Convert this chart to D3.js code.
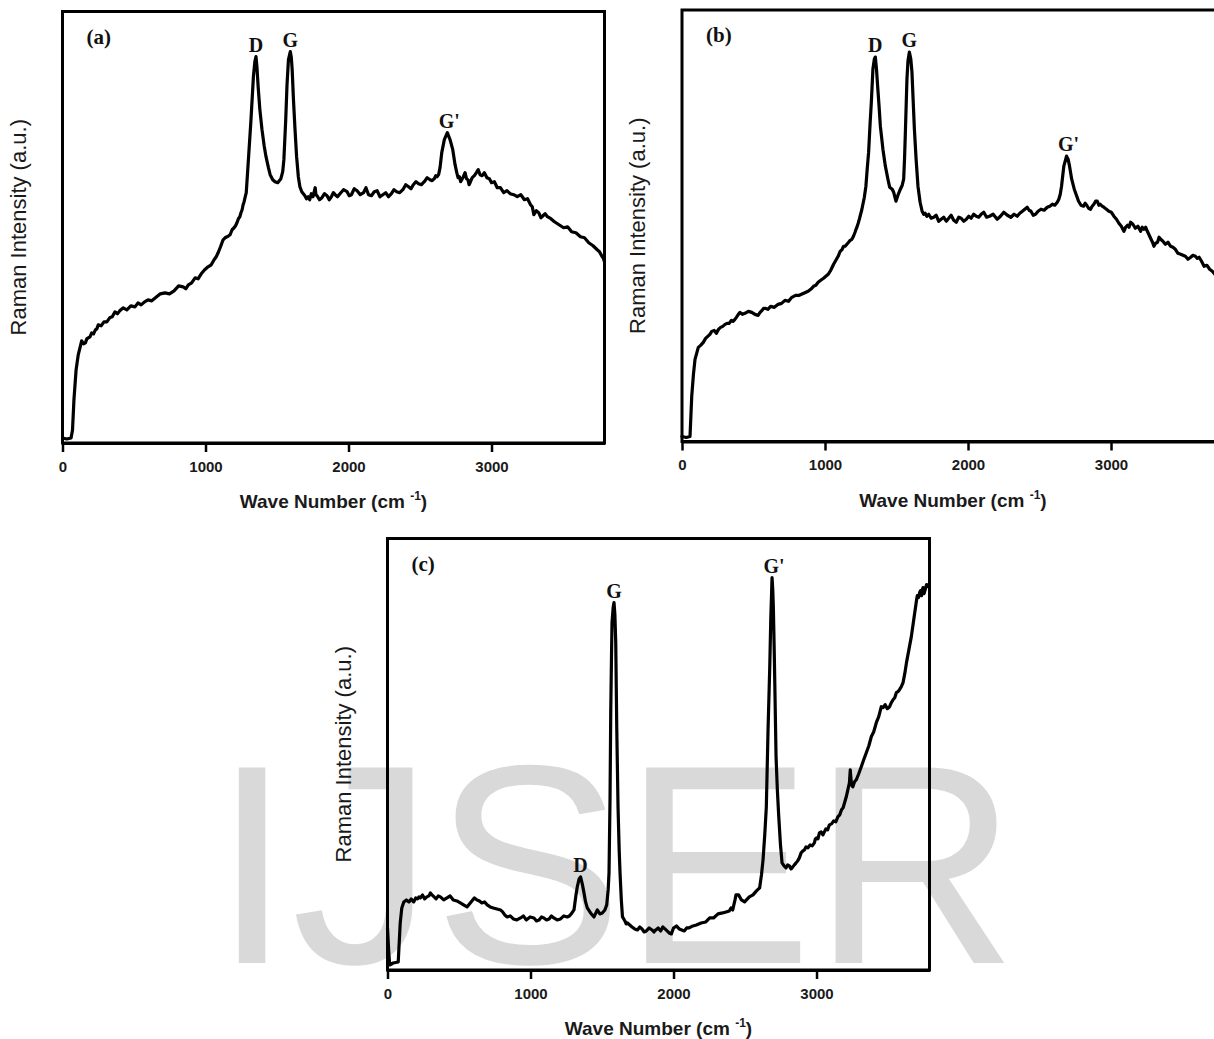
<!DOCTYPE html>
<html><head><meta charset="utf-8">
<script src="https://cdn.jsdelivr.net/npm/d3@7"></script>
<style>html,body{margin:0;padding:0;background:#fff;overflow:hidden}</style>
</head><body>
<script>
// ---------- data ----------
const xTicks = [0, 1000, 2000, 3000];
const xDomain = [0, 3790];
const yDomain = [0, 431];
const xTitle = "Wave Number (cm ";
const xTitleSup = "-1";
const yTitle = "Raman Intensity (a.u.)";
const watermarkText = "IJSER";

// [wave number (cm^-1), intensity (a.u.)]
const spectrumA = [[0,5],[30,4],[60,5],[70,13],[80,43],[95,73],[110,88],
[134,102],[147,99],[160,100],[170,104],[180,105],[192,106],[204,110],[217,109],[230,113],[240,114],[250,118],[270,117],
[290,121],[310,121],[330,125],[348,126],[367,131],[384,129],[400,132],[425,135],[450,133],[478,137],[507,136],[528,140],
[550,138],[574,141],[598,143],[624,142],[650,145],[684,149],[717,150],[748,149],[780,152],[812,157],[843,156],[862,154],
[880,158],[903,160],[927,165],[948,164],[970,169],[994,173],[1018,176],[1040,178],[1060,183],[1075,186],[1088,190],[1105,196],
[1123,203],[1137,205],[1150,206],[1162,207],[1172,208],[1186,213],[1200,215],[1210,217],[1220,220],[1230,224],[1240,226],
[1248,230],[1256,233],[1263,238],[1270,241],[1278,246],[1285,250],
[1300,283],[1318,323],[1335,366],[1345,381],[1353,386],[1360,375],[1368,356],[1380,333],[1395,313],[1410,297],
[1423,286],[1440,275],[1452,268],[1470,263],[1486,261],[1505,260],[1527,264],[1540,271],[1548,283],[1561,323],
[1570,358],[1580,383],[1593,391],[1600,385],[1606,373],[1615,343],[1626,313],[1637,286],[1649,266],[1660,256],
[1673,251],[1684,249],[1695,247],[1706,244],[1718,246],[1729,243],[1740,249],[1752,246],[1767,255],[1772,248],[1780,247],
[1797,243],[1814,245],[1832,249],[1850,247],[1865,243],[1880,246],[1894,250],[1907,248],[1923,246],[1940,249],[1965,253],
[1990,251],[2005,247],[2020,248],[2040,254],[2060,252],[2082,248],[2105,250],[2122,255],[2140,248],[2160,247],[2180,251],
[2200,252],[2220,246],[2240,248],[2260,250],[2280,246],[2300,249],[2318,253],[2337,251],[2358,250],[2380,253],[2400,258],
[2420,256],[2437,254],[2453,258],[2472,261],[2490,259],[2510,258],[2530,261],[2550,265],[2570,263],[2585,262],[2600,264],
[2610,267],[2620,266],[2630,268],[2640,275],
[2652,290],[2670,303],[2691,310],[2710,303],[2729,293],[2745,278],[2757,270],[2766,265],[2775,266],[2784,261],[2792,263],
[2803,266],[2815,270],[2825,264],[2835,263],[2843,258],[2850,260],[2865,265],[2880,267],[2894,270],[2907,273],[2920,268],
[2935,267],[2950,270],[2968,265],[2985,264],[3000,260],[3020,261],[3040,255],[3062,255],[3085,250],[3108,252],[3130,249],
[3155,248],[3180,246],[3205,248],[3230,243],[3252,244],[3273,238],[3285,236],[3296,228],[3313,232],[3330,230],[3345,225],
[3360,227],[3375,229],[3391,226],[3415,224],[3440,221],[3472,218],[3504,215],[3532,216],[3560,211],[3590,210],[3622,206],
[3650,205],[3680,200],[3710,197],[3739,193],[3755,191],[3770,187],[3780,185],[3790,181]];

const spectrumB = [[0,5],[30,4],[56,5],[68,45],[80,67],[91,82],[114,94],[130,96],[149,99],[165,103],[180,105],
[195,107],[208,110],[225,111],[240,108],[255,112],[270,114],[285,115],[301,117],[315,118],[330,118],[345,121],
[357,120],[370,122],[380,124],[394,127],[406,129],[422,127],[440,128],[464,130],[488,129],[510,127],[532,126],
[546,129],[560,131],[570,133],[581,133],[600,132],[620,135],[646,134],[672,137],[696,138],[720,141],[744,140],
[768,144],[794,146],[820,146],[851,148],[882,150],[900,152],[920,155],[936,156],[952,159],[970,161],[990,163],
[1006,165],[1022,167],[1040,171],[1060,177],[1076,181],[1092,185],[1106,190],[1120,192],[1130,195],[1141,195],
[1153,197],[1165,199],[1176,201],[1188,202],[1199,205],[1210,209],[1217,212],[1223,214],[1232,218],
[1240,222],[1258,232],[1275,244],[1286,255],[1295,272],[1305,289],[1315,317],[1324,339],[1335,372],[1345,382],
[1352,384],[1360,372],[1368,355],[1378,335],[1387,315],[1405,292],[1422,275],[1440,262],[1452,254],[1470,252],
[1480,249],[1496,240],[1510,246],[1527,252],[1540,256],[1550,262],[1556,282],[1562,309],[1573,362],[1580,380],
[1590,389],[1600,382],[1608,369],[1616,342],[1625,312],[1637,282],[1650,255],[1665,239],
[1679,230],[1690,227],[1700,228],[1712,225],[1725,227],[1742,223],[1760,224],[1777,226],[1795,220],[1812,222],
[1830,224],[1848,220],[1865,223],[1882,226],[1900,221],[1918,219],[1935,224],[1952,223],[1970,220],[1988,222],
[2005,225],[2022,223],[2040,227],[2058,225],[2075,224],[2092,227],[2110,229],[2130,224],[2150,225],[2176,227],
[2204,222],[2227,225],[2250,229],[2275,226],[2300,224],[2322,227],[2344,225],[2362,228],[2380,230],[2397,232],
[2414,234],[2427,231],[2440,230],[2456,226],[2472,227],[2490,230],[2510,232],[2532,231],[2554,234],[2572,235],
[2590,237],[2607,236],[2624,239],[2635,242],
[2645,247],[2654,255],[2670,275],[2689,285],[2700,282],[2710,275],[2725,262],[2743,252],[2773,240],
[2790,236],[2808,235],[2819,238],[2830,236],[2843,233],[2857,232],[2868,235],[2880,237],[2892,240],[2904,240],
[2915,236],[2925,237],[2938,235],[2950,234],[2968,232],[2985,230],[3002,229],[3020,225],[3038,222],[3055,218],
[3072,215],[3090,210],[3102,214],[3115,216],[3126,214],[3137,219],[3153,217],[3170,213],[3188,215],[3207,210],
[3218,214],[3230,212],[3242,214],[3254,210],[3267,206],[3280,202],[3290,199],[3300,195],[3312,198],[3325,199],
[3336,204],[3347,202],[3363,200],[3380,197],[3398,199],[3417,195],[3433,194],[3450,192],[3468,188],[3487,187],
[3503,186],[3520,185],[3538,182],[3557,184],[3573,186],[3590,185],[3603,183],[3616,184],[3633,180],[3651,175],
[3670,176],[3690,172],[3708,170],[3726,167],[3743,168],[3760,165],[3775,164],[3790,162]];

const spectrumC = [[0,42],[8,20],[15,5],[40,7],[75,8],[89,47],[100,62],[114,68],[132,70],[150,68],[166,71],
[183,68],[197,72],[210,71],[220,73],[229,72],[245,75],[260,71],[275,73],[290,74],[300,77],[311,75],[326,73],
[340,71],[355,74],[370,73],[393,70],[416,72],[438,74],[460,70],[485,69],[509,67],[532,65],[556,63],[573,66],
[590,69],[608,72],[626,70],[643,69],[660,67],[678,68],[697,65],[718,63],[740,62],[765,61],[790,60],[805,58],
[820,55],[837,53],[858,54],[880,51],[905,50],[930,52],[950,54],[970,50],[997,53],[1024,52],[1042,49],[1060,50],
[1077,53],[1094,52],[1112,50],[1130,51],[1146,54],[1163,52],[1186,50],[1210,51],[1233,54],[1257,53],[1272,54],
[1285,56],[1304,60],[1318,75],[1327,83],[1340,91],[1350,93],[1362,86],[1374,77],[1385,68],[1397,62],[1420,57],
[1444,53],[1467,60],[1485,56],[1502,57],[1520,60],[1533,65],[1543,80],[1549,97],[1556,170],[1561,257],
[1566,310],[1570,347],[1578,362],[1584,367],[1590,355],[1596,327],[1603,243],[1612,163],[1620,120],[1626,97],
[1635,70],[1643,53],[1652,51],[1660,49],[1669,46],[1678,47],[1694,45],[1710,43],[1729,41],[1748,40],[1764,43],
[1780,41],[1795,38],[1810,39],[1830,42],[1850,40],[1863,38],[1876,40],[1893,42],[1910,39],[1925,43],[1940,41],
[1955,39],[1970,37],[1985,36],[2000,42],[2020,44],[2040,41],[2058,40],[2075,39],[2092,42],[2109,42],[2135,44],
[2160,45],[2193,47],[2226,48],[2253,52],[2280,52],[2311,56],[2343,57],[2367,58],[2390,59],[2402,62],[2414,60],
[2430,70],[2437,75],[2455,75],[2475,70],[2497,68],[2530,73],[2556,75],
[2580,79],[2602,82],[2615,95],[2626,110],[2638,135],[2649,163],[2661,240],[2673,303],[2680,350],[2685,373],
[2689,392],[2694,380],[2698,363],[2705,313],[2717,213],[2726,180],[2736,153],[2748,125],[2759,107],[2773,104],
[2787,102],[2798,105],[2810,104],[2822,101],[2834,103],[2845,105],[2857,107],[2868,109],[2880,112],[2892,117],
[2905,119],[2916,120],[2927,123],[2940,122],[2955,125],[2970,124],[2985,127],[2992,131],[3000,132],[3010,131],
[3020,137],[3032,138],[3045,135],[3055,138],[3065,141],[3078,140],[3090,145],[3105,146],[3120,149],[3135,148],
[3149,153],[3162,155],[3175,160],[3186,162],[3196,167],[3208,173],[3219,180],[3230,187],[3236,200],[3240,192],
[3245,185],[3254,183],[3266,188],[3278,190],[3295,196],[3313,203],[3330,210],[3348,217],[3366,224],[3383,233],
[3400,238],[3418,247],[3435,253],[3453,263],[3466,262],[3480,265],[3495,261],[3511,263],[3523,267],[3535,270],
[3547,272],[3558,277],[3569,278],[3580,280],[3593,283],[3605,287],[3617,296],[3629,307],[3646,320],[3663,333],
[3678,348],[3693,363],[3700,370],[3705,374],[3713,372],[3721,377],[3728,379],[3735,374],[3740,380],[3745,382],
[3752,376],[3760,380],[3770,385],[3780,383]];

const panelLetters = ["(a)", "(b)", "(c)"];
const peakNamesA = ["D", "G", "G'"];
const peakPosA = [1353, 1593, 2691];
const peakNamesB = ["D", "G", "G'"];
const peakPosB = [1352, 1590, 2689];
const peakNamesC = ["D", "G", "G'"];
const peakPosC = [1350, 1584, 2689];

// ---------- layout ----------
const W = 1214, H = 1039;
const PW = 542, PH = 431.5;
const layout = [
  {left: 62.5, top: 11.5},
  {left: 682, top: 10},
  {left: 387.5, top: 538.5}
];
const sans = "'Liberation Sans', Arial, Helvetica, sans-serif";
const serif = "'Liberation Serif', 'Times New Roman', Times, serif";

const svg = d3.select("body").append("svg")
  .attr("width", W).attr("height", H)
  .style("display", "block").style("background", "#fff");

// watermark behind everything
svg.append("text")
  .attr("x", 212.6).attr("y", 963)
  .attr("font-family", sans).attr("font-size", 284)
  .attr("fill", "#d9d9d9")
  .text(watermarkText);

const panels = [
  {spec: spectrumA, names: peakNamesA, pos: peakPosA},
  {spec: spectrumB, names: peakNamesB, pos: peakPosB},
  {spec: spectrumC, names: peakNamesC, pos: peakPosC}
];

panels.forEach((p, i) => {
  const {left, top} = layout[i];
  const x = d3.scaleLinear().domain(xDomain).range([left, left + PW]);
  const y = d3.scaleLinear().domain(yDomain).range([top + PH, top]);
  const g = svg.append("g");

  // spectrum line
  g.append("path")
    .datum(p.spec)
    .attr("fill", "none")
    .attr("stroke", "#000")
    .attr("stroke-width", 3.2)
    .attr("stroke-linejoin", "round")
    .attr("stroke-linecap", "round")
    .attr("d", d3.line().x(d => x(d[0])).y(d => y(d[1])));

  // frame
  g.append("rect")
    .attr("x", left).attr("y", top)
    .attr("width", PW).attr("height", PH)
    .attr("fill", "none").attr("stroke", "#000").attr("stroke-width", 3);

  // x axis
  const ax = g.append("g")
    .attr("transform", `translate(0,${top + PH})`)
    .call(d3.axisBottom(x).tickValues(xTicks).tickSize(9).tickSizeOuter(0)
      .tickPadding(9).tickFormat(d3.format("d")));
  ax.select(".domain").attr("stroke", "#000").attr("stroke-width", 3);
  ax.selectAll(".tick line").attr("stroke", "#000").attr("stroke-width", 2.5);
  ax.selectAll(".tick text")
    .attr("font-family", sans).attr("font-size", 15).attr("font-weight", "bold")
    .attr("fill", "#1a1a1a");

  // x title
  const xt = g.append("text")
    .attr("x", left + PW / 2).attr("y", top + PH + 65)
    .attr("text-anchor", "middle")
    .attr("font-family", sans).attr("font-weight", "bold").attr("font-size", 19)
    .attr("fill", "#1a1a1a");
  xt.append("tspan").text(xTitle);
  xt.append("tspan").attr("font-size", 12).attr("dy", -8).text(xTitleSup);
  xt.append("tspan").attr("font-size", 19).attr("dy", 8).text(")");

  // y title
  g.append("text")
    .attr("transform", `translate(${left - 37},${top + PH / 2}) rotate(-90)`)
    .attr("text-anchor", "middle")
    .attr("font-family", sans).attr("font-size", 22)
    .attr("fill", "#1a1a1a")
    .text(yTitle);

  // panel letter
  g.append("text")
    .attr("x", left + 24).attr("y", top + 32)
    .attr("font-family", serif).attr("font-weight", "bold").attr("font-size", 21)
    .attr("fill", "#111")
    .text(panelLetters[i]);

  // peak labels
  p.names.forEach((name, k) => {
    const px = p.pos[k];
    const near = p.spec.filter(d => Math.abs(d[0] - px) <= 15);
    const peakVal = d3.max(near, d => d[1]);
    g.append("text")
      .attr("x", x(px) + (name.length > 1 ? 2 : 0))
      .attr("y", y(peakVal) - 5)
      .attr("text-anchor", "middle")
      .attr("font-family", serif).attr("font-weight", "bold").attr("font-size", 20)
      .attr("fill", "#111")
      .text(name);
  });
});
</script>
</body></html>
